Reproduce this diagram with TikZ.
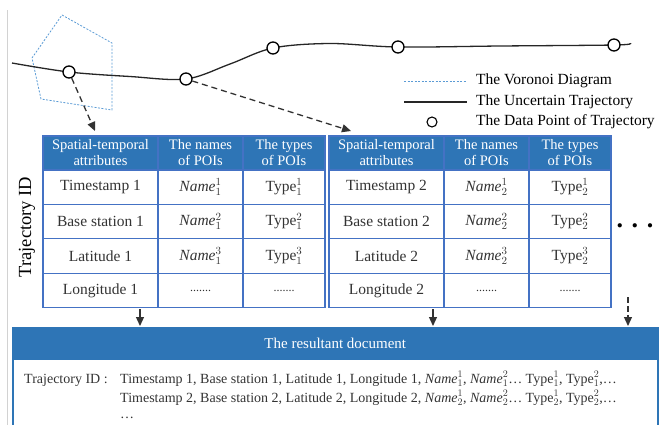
\documentclass[tikz,border=0pt]{standalone}
\usepackage{fontspec}
\setmainfont{Liberation Serif}
\usepackage{amsmath}
\usetikzlibrary{arrows.meta}

\definecolor{headblue}{HTML}{2E75B6}
\definecolor{gridblue}{HTML}{4472C4}
\definecolor{voroblue}{HTML}{5B9BD5}

\begin{document}
\begin{tikzpicture}[x=1pt,y=-1pt,
    cell/.style={draw=gridblue,line width=1.2pt,minimum height=34.5pt,inner sep=0pt,
      text=black!80,font=\fontsize{15.5}{18}\selectfont},
    head/.style={cell,minimum height=34pt,fill=headblue,draw=gridblue,text=white,align=center,
      font=\fontsize{14.5}{16}\selectfont},
    datapt/.style={circle,draw,fill=white,line width=1.3pt,minimum size=12pt,inner sep=0pt},
    traj/.style={line width=1.3pt,black!85},
    voronoi/.style={voroblue,line width=0.8pt,dash pattern=on 2pt off 1.5pt},
    dasharr/.style={black!80,line width=1.3pt,dash pattern=on 6pt off 4pt,
      -{Triangle[length=9pt,width=8pt]}},
    downarr/.style={black!80,line width=1.2pt,-{Triangle[length=9pt,width=8pt]}},
    legtext/.style={anchor=west,inner sep=0pt,font=\fontsize{15.5}{18}\selectfont},
    doctext/.style={anchor=base west,inner sep=0pt,text=black!80,font=\fontsize{14}{19}\selectfont}]
  \useasboundingbox (0,0) rectangle (662,424);
  \draw[gray!35,line width=0.8pt] (7,10) -- (7,430);

  % voronoi cell and trajectory
  \draw[voronoi] (62,15) -- (112,43) -- (112,110) -- (41,99) -- (32,58) -- cycle;
  \coordinate (d1) at (69,72); \coordinate (d2) at (186,79); \coordinate (d3) at (273,48);
  \coordinate (d4) at (398,47); \coordinate (d5) at (614,45);
  \draw[traj] plot[smooth,tension=0.55] coordinates {(12,63) (d1) (130,76.5) (d2) (230,64) (d3)
    (330,43.5) (d4) (500,46) (d5) (630,43.5)};
  \node[datapt] (p1) at (d1) {}; \node[datapt] (p2) at (d2) {}; \node[datapt] (p3) at (d3) {};
  \node[datapt] (p4) at (d4) {}; \node[datapt] (p5) at (d5) {};

  % legend
  \coordinate (l1a) at (404,81); \coordinate (l1b) at (467,81);
  \coordinate (l2a) at (404,102); \coordinate (l2b) at (467,102);
  \draw[voronoi] (l1a) -- (l1b);
  \draw[traj] (l2a) -- (l2b);
  \node[datapt,minimum size=10pt,line width=1.1pt] (l3) at (432,122) {};
  \node[legtext] (lt1) at (476,81) {The Voronoi Diagram};
  \node[legtext] (lt2) at (476,102) {The Uncertain Trajectory};
  \node[legtext] (lt3) at (476,122) {The Data Point of Trajectory};

  % the two tables
  \foreach \tbl/\dx in {1/0,2/286} {
    \begin{scope}[xshift=\dx pt]
      \node[head,minimum width=115pt] (h\tbl-1) at (100.5,153) {Spatial-temporal\\attributes};
      \node[head,minimum width=85pt] (h\tbl-2) at (200.5,153) {The names\\of POIs};
      \node[head,minimum width=82pt] (h\tbl-3) at (284,153) {The types\\of POIs};
      \foreach \rw/\yy/\attr in {1/187/Timestamp,2/221.5/Base station,3/256/Latitude} {
        \node[cell,minimum width=115pt] (a\tbl-\rw) at (100.5,\yy) {\attr\ \tbl};
        \node[cell,minimum width=85pt] (n\tbl-\rw) at (200.5,\yy) {\textit{Name}$^{\rw}_{\tbl}$};
        \node[cell,minimum width=82pt] (y\tbl-\rw) at (284,\yy) {Type$^{\rw}_{\tbl}$};
      }
      \node[cell,minimum width=115pt] (a\tbl-4) at (100.5,290.5) {Longitude \tbl};
      \node[cell,minimum width=85pt] (n\tbl-4) at (200.5,290.5) {\fontsize{12}{12}\selectfont.......};
      \node[cell,minimum width=82pt] (y\tbl-4) at (284,290.5) {\fontsize{12}{12}\selectfont.......};
    \end{scope}
  }
  \node[rotate=90,font=\fontsize{18.5}{20}\selectfont] (tid) at (27,227) {Trajectory ID};
  \node[font=\fontsize{26}{26}\selectfont\bfseries] (more) at (635,226) {. . .};

  % arrows from the data points
  \coordinate (a1) at (95,131); \coordinate (a2) at (351,131);
  \draw[dasharr] (p1) -- (a1);
  \draw[dasharr] (p2) -- (a2);

  % resultant document
  \node[draw=headblue,line width=1.5pt,minimum width=645pt,minimum height=105pt,
    anchor=north west] (doc) at (12,327) {};
  \node[fill=headblue,draw=headblue,line width=1.5pt,minimum width=645pt,minimum height=31pt,
    anchor=north west,text=white,font=\fontsize{15}{18}\selectfont] (dochead) at (12,327)
    {The resultant document};
  \coordinate (v1) at (140,309); \coordinate (w1) at (140,326);
  \coordinate (v2) at (433,309); \coordinate (w2) at (433,326);
  \coordinate (v3) at (628,297); \coordinate (w3) at (628,326);
  \draw[downarr] (v1) -- (w1);
  \draw[downarr] (v2) -- (w2);
  \draw[downarr,dash pattern=on 6pt off 3pt] (v3) -- (w3);

  \node[doctext] (docid) at (24,383) {Trajectory ID :};
  \node[doctext] (line1) at (120,383) {Timestamp 1, Base station 1, Latitude 1, Longitude 1,
    \textit{Name}$^{1}_{1}$, \textit{Name}$^{2}_{1}$\ldots{} Type$^{1}_{1}$, Type$^{2}_{1}$,\ldots};
  \node[doctext] (line2) at (120,402) {Timestamp 2, Base station 2, Latitude 2, Longitude 2,
    \textit{Name}$^{1}_{2}$, \textit{Name}$^{2}_{2}$\ldots{} Type$^{1}_{2}$, Type$^{2}_{2}$,\ldots};
  \node[doctext] (line3) at (120,418) {\ldots};
\end{tikzpicture}
\end{document}
